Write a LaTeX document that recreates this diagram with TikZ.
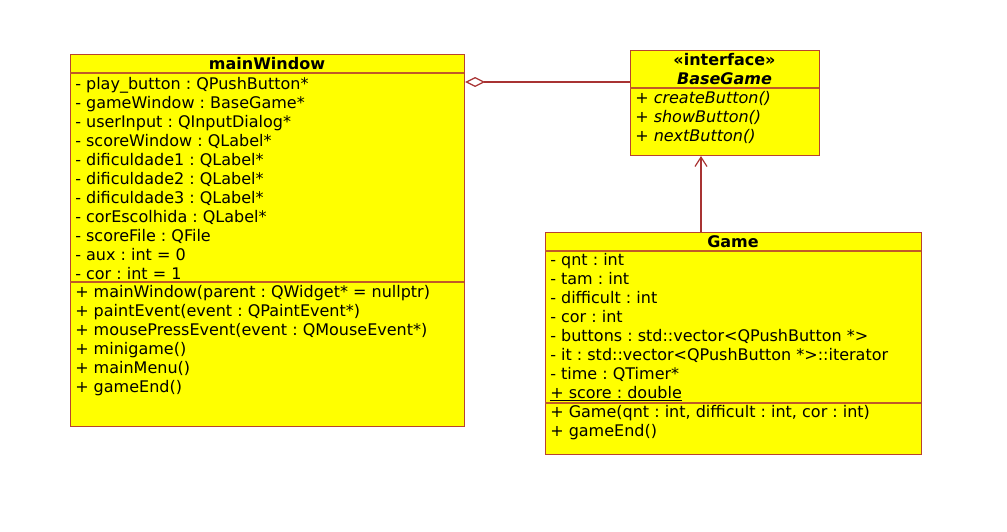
\documentclass[tikz,border=0pt]{standalone}
\usepackage{fontspec}
\setmainfont{DejaVu Sans}
\usepackage{xcolor}
\usepackage{tikz}
\usetikzlibrary{arrows.meta}
\frenchspacing
\definecolor{border}{HTML}{B8432F}
\definecolor{divider}{HTML}{C05A28}
\definecolor{link}{HTML}{A83232}
\definecolor{umlyellow}{HTML}{FFFF00}

\begin{document}
\begin{tikzpicture}[x=0.75pt, y=-0.75pt,
  every node/.style={font=\fontsize{12}{14}\selectfont, inner sep=0pt, text=black},
  classbox/.style={draw=border, fill=umlyellow, line width=0.8pt, anchor=north west},
  classname/.style={anchor=base, font=\fontsize{12}{14}\selectfont\bfseries},
  member/.style={anchor=base west},
  divline/.style={divider, line width=0.8pt},
  conn/.style={link, line width=0.9pt}]
  \useasboundingbox (0,0) rectangle (1007,532);

  % class boxes
  \node[classbox, minimum width=295.5pt, minimum height=279pt] (mainWindow) at (70,54) {};
  \node[classbox, minimum width=141.75pt, minimum height=78.75pt] (baseGame) at (630,50) {};
  \node[classbox, minimum width=282pt, minimum height=166.5pt] (game) at (545,232) {};

  \draw[divline] (70,73) -- (464,73);
  \draw[divline] (70,282) -- (464,282);
  \draw[divline] (630,88) -- (819,88);
  \draw[divline] (545,251) -- (921,251);
  \draw[divline] (545,403) -- (921,403);

  % mainWindow
  \node[classname] (mwName) at (267,69) {mainWindow};
  \foreach \lab [count=\k from 0] in {- play\_button : QPushButton*, - gameWindow : BaseGame*,
      - userInput : QInputDialog*, - scoreWindow : QLabel*, - dificuldade1 : QLabel*,
      - dificuldade2 : QLabel*, - dificuldade3 : QLabel*, - corEscolhida : QLabel*,
      - scoreFile : QFile, - aux : int = 0, - cor : int = 1}{
    \node[member] (mwA\k) at (75,{89+19*\k}) {\lab};
  }
  \foreach \lab [count=\k from 0] in {+ mainWindow(parent : QWidget* = nullptr),
      + paintEvent(event : QPaintEvent*), + mousePressEvent(event : QMouseEvent*),
      + minigame(), + mainMenu(), + gameEnd()}{
    \node[member] (mwM\k) at (75,{297+19*\k}) {\lab};
  }

  % interface
  \node[classname] (bgStereo) at (724.5,65) {«interface»};
  \node[classname, font=\fontsize{12}{14}\selectfont\bfseries\itshape] (bgName) at (724.5,84) {BaseGame};
  \foreach \lab [count=\k from 0] in {+ \textit{createButton()}, + \textit{showButton()}, + \textit{nextButton()}}{
    \node[member] (bgM\k) at (635,{103+19*\k}) {\lab};
  }

  % Game
  \node[classname] (gName) at (733,247) {Game};
  \foreach \lab [count=\k from 0] in {- qnt : int, - tam : int, - difficult : int, - cor : int,
      - buttons : std::vector<QPushButton *>, - it : std::vector<QPushButton *>::iterator,
      - time : QTimer*, \underline{+ score : double}}{
    \node[member] (gA\k) at (550,{265+19*\k}) {\lab};
  }
  \foreach \lab [count=\k from 0] in {{+ Game(qnt : int, difficult : int, cor : int)}, + gameEnd()}{
    \node[member] (gM\k) at (550,{417+19*\k}) {\lab};
  }

  % relations
  \coordinate (aggY) at (0,82);
  \coordinate (realX) at (701,0);
  \draw[conn, {Diamond[open, fill=white, length=15pt, width=7.5pt]}-] (mainWindow.east |- aggY) -- (baseGame.west |- aggY);
  \draw[conn, -{Straight Barb[length=7pt, width=9pt]}] (game.north -| realX) -- (baseGame.south -| realX);
\end{tikzpicture}
\end{document}
